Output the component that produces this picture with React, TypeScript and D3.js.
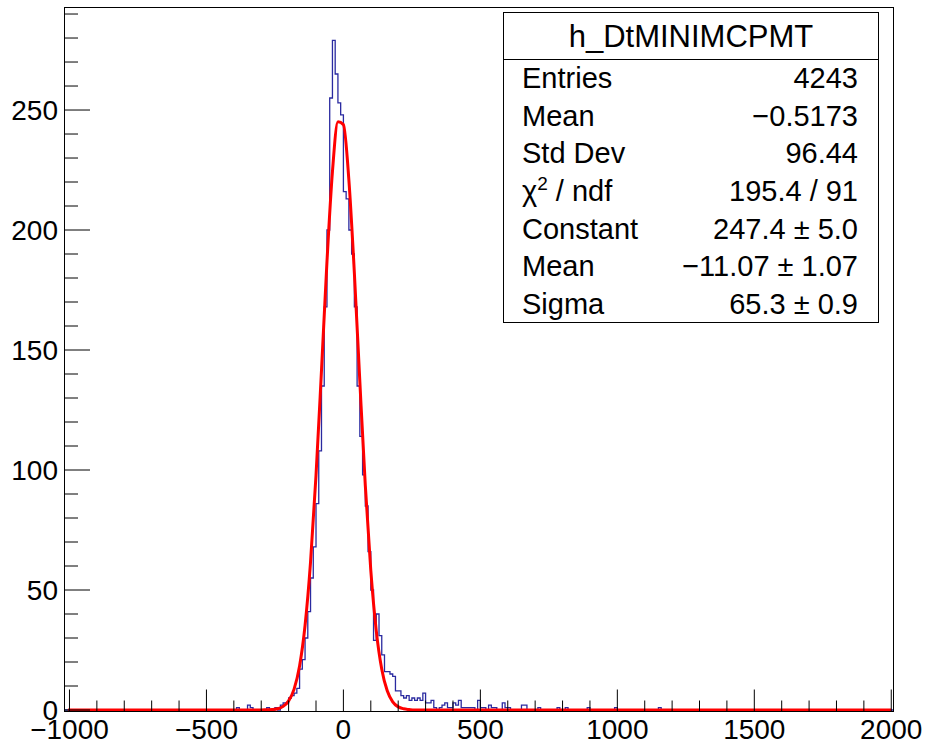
import React from 'react';
import * as d3 from 'd3';

// histogram: 10-unit bins, counts listed from -400 upward (everything else is empty)
const histLow = -1020;
const histHigh = 2010;
const binWidth = 10;
const countsStart = -400;
const counts = [
  0, 1, 0, 0, 0, 2, 1, 0, 0, 0,          // -400 .. -310
  0, 0, 1, 0, 0, 1, 0, 2, 3, 3,          // -300 .. -210
  5, 6, 7, 9, 17, 21, 30, 41, 55, 68,    // -200 .. -110
  86, 108, 135, 168, 200, 255, 279, 265, 253, 248, // -100 .. -10
  216, 213, 200, 190, 168, 135, 114, 98, 85, 66,   // 0 .. 90
  50, 29, 40, 31, 23, 16, 16, 15, 14, 8,           // 100 .. 190
  8, 6, 5, 6, 4, 5, 4, 5, 4, 7,          // 200 .. 290
  3, 3, 4, 1, 0, 1, 2, 3, 1, 1,          // 300 .. 390
  3, 2, 4, 1, 1, 1, 1, 1, 0, 4,          // 400 .. 490
  1, 1, 0, 2, 1, 1, 0, 0, 3, 1,          // 500 .. 590
  1, 0, 0, 0, 0, 2, 2, 0, 0, 0,          // 600 .. 690
];
const farTailBins = [710, 780, 810, 890, 990, 1150];
const farTailCounts = [1, 1, 1, 1, 1, 1];

// fitted gaussian
const fitX = [-1005, -300, -280, -260, -240, -220, -200, -180, -160, -140, -120, -100, -80, -60, -40, -20, 0,
  20, 40, 60, 80, 100, 120, 140, 160, 180, 200, 220, 240, 260, 2000];
const fitY = [0, 0, 0.1, 0.2, 0.5, 1.5, 3.8, 8.7, 18.3, 35.2, 61.6, 97.8, 141.5, 186.8, 224.3, 245.1, 243.9,
  220.8, 182.1, 136.8, 93.5, 58.2, 33.0, 17.0, 8.0, 3.4, 1.3, 0.5, 0.2, 0, 0];

const xMajor = [-1000, -500, 0, 500, 1000, 1500, 2000];
const xLabels = ['\u22121000', '\u2212500', '0', '500', '1000', '1500', '2000'];
const yMajor = [0, 50, 100, 150, 200, 250];
const yLabels = ['0', '50', '100', '150', '200', '250'];

const statsTitle = 'h_DtMINIMCPMT';
const statsNames = ['Entries', 'Mean', 'Std Dev', 'chi2', 'Constant', 'Mean', 'Sigma'];
const statsValues = ['4243', '\u22120.5173', '96.44', '195.4 / 91', '247.4 \u00b1 5.0', '\u221211.07 \u00b1 1.07', '65.3 \u00b1 0.9'];

const font = '"Liberation Sans", Arial, Helvetica, sans-serif';

export default function App() {
  const width = 928;
  const height = 744;
  const frame = { left: 64.5, right: 893.5, top: 7.5, bottom: 711.5 };

  const x = d3.scaleLinear().domain([histLow, histHigh]).range([64, 894]);
  const y = d3.scaleLinear().domain([0, 292.8]).range([710, 7.3]);

  const binCount = (lo: number) => {
    const i = Math.round((lo - countsStart) / binWidth);
    if (i >= 0 && i < counts.length) return counts[i];
    const j = farTailBins.indexOf(lo);
    return j >= 0 ? farTailCounts[j] : 0;
  };

  const stepPts: [number, number][] = [];
  for (let lo = histLow; lo < histHigh; lo += binWidth) {
    const c = binCount(lo);
    stepPts.push([lo, c]);
    stepPts.push([lo + binWidth, c]);
  }
  const histLine = d3.line<[number, number]>().x((d) => x(d[0])).y((d) => y(d[1]));

  const fitLine = d3.line<number>()
    .x((_, i) => x(fitX[i]))
    .y((d) => y(d))
    .curve(d3.curveMonotoneX);

  const xMinor = d3.range(-1000, 2001, 100);
  const yMinor = d3.range(0, 291, 10);

  const box = { x0: 503.5, x1: 878.5, y0: 12.5, y1: 322.5, sep: 59.5 };
  const rowH = (box.y1 - box.sep) / statsNames.length;

  return (
    <svg width={width} height={height} style={{ position: 'absolute', left: 0, top: 0, background: '#fff' }}>
      <rect x={0} y={0} width={width} height={height} fill="#fff" />

      <path d={histLine(stepPts) || ''} fill="none" stroke="#2a2aa0" strokeWidth={1.3} />
      <path d={fitLine(fitY) || ''} fill="none" stroke="#ff0000" strokeWidth={3} strokeLinejoin="round" />

      {/* frame */}
      <rect x={frame.left} y={frame.top} width={frame.right - frame.left} height={frame.bottom - frame.top}
        fill="none" stroke="#000" strokeWidth={1} />

      {/* x axis ticks */}
      {xMinor.map((v) => {
        const major = v % 500 === 0;
        return (
          <line key={'xt' + v} x1={x(v)} x2={x(v)} y1={frame.bottom} y2={frame.bottom - (major ? 22 : 11)}
            stroke="#000" strokeWidth={1} />
        );
      })}
      {xMajor.map((v, i) => (
        <text key={'xl' + v} x={x(v)} y={739} textAnchor="middle" fontFamily={font} fontSize={28} fill="#000">
          {xLabels[i]}
        </text>
      ))}

      {/* y axis ticks */}
      {yMinor.map((v) => {
        const major = v % 50 === 0;
        return (
          <line key={'yt' + v} x1={frame.left} x2={frame.left + (major ? 25.5 : 13.5)} y1={y(v)} y2={y(v)}
            stroke="#000" strokeWidth={1} />
        );
      })}
      {yMajor.map((v, i) => (
        <text key={'yl' + v} x={58} y={y(v) + 10} textAnchor="end" fontFamily={font} fontSize={28} fill="#000">
          {yLabels[i]}
        </text>
      ))}

      {/* stats box */}
      <rect x={box.x0} y={box.y0} width={box.x1 - box.x0} height={box.y1 - box.y0} fill="#fff" stroke="#000" strokeWidth={1} />
      <line x1={box.x0} x2={box.x1} y1={box.sep} y2={box.sep} stroke="#000" strokeWidth={1} />
      <text x={(box.x0 + box.x1) / 2} y={47} textAnchor="middle" fontFamily={font} fontSize={31} fill="#000">
        {statsTitle}
      </text>
      {statsNames.map((name, i) => {
        const cy = box.sep + rowH * (i + 0.5) + 10;
        return (
          <g key={'st' + i}>
            <text x={522} y={cy} fontFamily={font} fontSize={29} fill="#000">
              {name === 'chi2' ? (
                <>
                  {'\u03c7'}
                  <tspan dy={-11} fontSize={19}>2</tspan>
                  <tspan dy={11}>{' / ndf'}</tspan>
                </>
              ) : name}
            </text>
            <text x={858} y={cy} textAnchor="end" fontFamily={font} fontSize={29} fill="#000">
              {statsValues[i]}
            </text>
          </g>
        );
      })}
    </svg>
  );
}
